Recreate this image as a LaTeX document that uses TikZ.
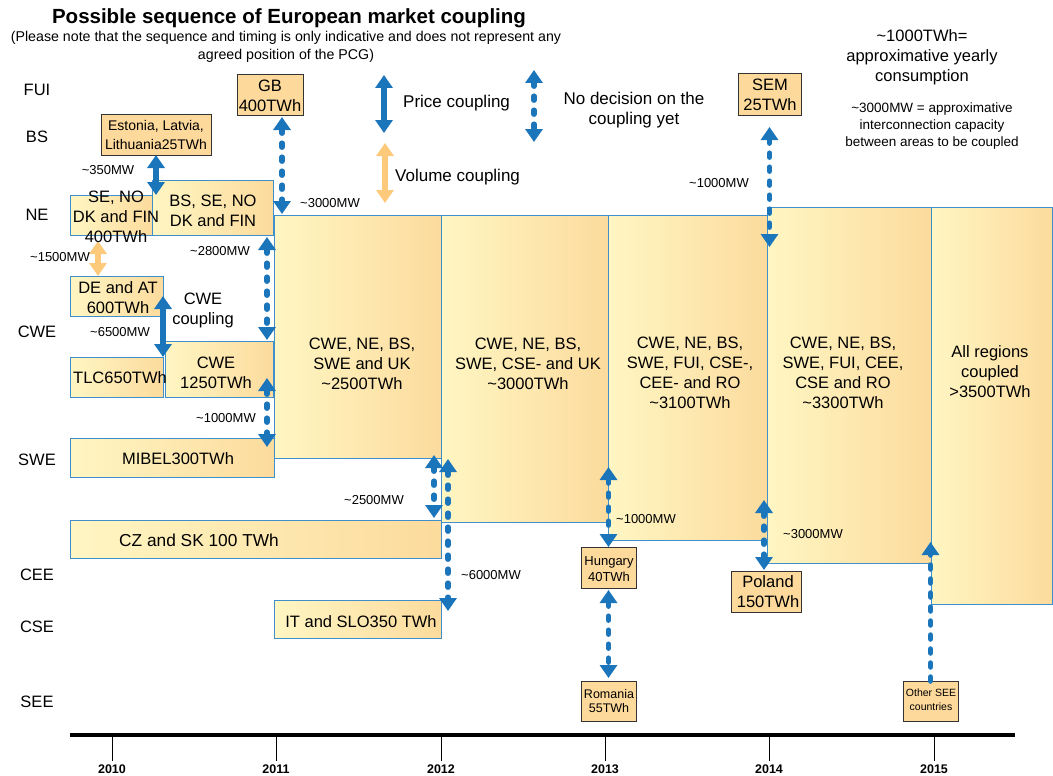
\documentclass[tikz,border=0pt]{standalone}
\usepackage{fontspec}
\setmainfont{Liberation Sans}
\usetikzlibrary{arrows.meta,fit,calc}
\definecolor{arrblue}{HTML}{1B75BB}
\definecolor{boxblue}{HTML}{3F8FCB}
\definecolor{fillL}{HTML}{FFF6C3}
\definecolor{fillR}{HTML}{FCDB9D}
\definecolor{smallfill}{HTML}{FDD99C}
\definecolor{volorange}{HTML}{FDC97A}
\newcommand\fsz[2]{\fontsize{#1}{#2}\selectfont}
\newcommand\tld{\textasciitilde}
\begin{document}
\begin{tikzpicture}[x=1pt,y=-1pt,
  regbox/.style={draw=boxblue, line width=0.9pt, left color=fillL, right color=fillR, inner sep=0pt, outer sep=0pt},
  smallbox/.style={draw=black!80, line width=0.8pt, fill=smallfill, inner sep=0pt, outer sep=0pt},
  txt/.style={inner sep=0pt, align=center, font=\fsz{16.5}{20}},
  rowlab/.style={inner sep=0pt, font=\fsz{16.5}{20}},
  mw/.style={inner sep=0pt, font=\fsz{13}{15}},
  yr/.style={inner sep=0pt, font=\bfseries\fsz{12.5}{15}},
  tipb/.tip={Triangle[width=17pt,length=13pt]},
  pricearr/.style={draw=arrblue, line width=5.5pt, tipb-tipb},
  nodec/.style={draw=arrblue, line width=5.5pt, tipb-tipb, dash pattern=on 4pt off 10pt, line cap=round},
  nodecup/.style={draw=arrblue, line width=5.5pt, -tipb, dash pattern=on 4pt off 10pt, line cap=round},
  volarr/.style={draw=volorange, line width=5.5pt, tipb-tipb},
]
\useasboundingbox (0,0) rectangle (1053,776);
\fill[white] (0,0) rectangle (1053,776);

% titles
\node[inner sep=0pt, font=\bfseries\fsz{20.5}{24}] (title) at (289,18) {Possible sequence of European market coupling};
\node[inner sep=0pt, align=center, font=\fsz{14.2}{18}] (sub) at (286,47) {(Please note that the sequence and timing is only indicative and does not represent any\\agreed position of the PCG)};

% row labels
\node[rowlab] (rFUI) at (37,90) {FUI};
\node[rowlab] (rBS) at (37,137) {BS};
\node[rowlab] (rNE) at (37,215) {NE};
\node[rowlab] (rCWE) at (37,332) {CWE};
\node[rowlab] (rSWE) at (37,460) {SWE};
\node[rowlab] (rCEE) at (37,575) {CEE};
\node[rowlab] (rCSE) at (37,627) {CSE};
\node[rowlab] (rSEE) at (37,702) {SEE};

% big regional boxes
\node[regbox, fit={(274,215) (441,458)}] (big1) {};
\node[regbox, fit={(441,215) (608,522)}] (big2) {};
\node[regbox, fit={(608,215) (767,540)}] (big3) {};
\node[regbox, fit={(767,207) (931,563)}] (big4) {};
\node[regbox, fit={(931,207) (1052,604)}] (big5) {};

% smaller regional boxes
\node[regbox, fit={(70,195) (152,235)}] (sen) {};
\node[regbox, fit={(152,180) (273,235)}] (bsse) {};
\node[regbox, fit={(70,276) (163,316)}] (deat) {};
\node[regbox, fit={(70,357) (163,397)}] (tlc) {};
\node[regbox, fit={(165,341) (273,397)}] (cwe) {};
\node[regbox, fit={(70,438) (274,477)}] (mibel) {};
\node[regbox, fit={(70,520) (441,558)}] (czsk) {};
\node[regbox, fit={(274,600) (441,638)}] (itslo) {};

% country boxes
\node[smallbox, fit={(237,74) (303,115)}] (gb) {};
\node[smallbox, fit={(101,114) (211,155)}] (est) {};
\node[smallbox, fit={(738,73) (801,115)}] (sem) {};
\node[smallbox, fit={(581,547) (636,588)}] (hun) {};
\node[smallbox, fit={(731,571) (801,612)}] (pol) {};
\node[smallbox, fit={(581,681) (636,721)}] (rom) {};
\node[smallbox, fit={(903,681) (958,721)}] (osee) {};

% helper x positions
\coordinate (vx) at (98,0);
\coordinate (gbx) at (282,0);
\coordinate (ax267) at (267,0);
\coordinate (ax434) at (434,0);
\coordinate (ax448) at (448,0);
\coordinate (ax764) at (764,0);

% connectors
\draw[pricearr] (est.south) -- (est.south |- sen.north);
\draw[volarr, shorten <=6pt] (vx |- sen.south) -- (vx |- deat.north);
\draw[pricearr] (deat.east) -- (deat.east |- tlc.north);
\draw[nodec, shorten <=2pt, shorten >=1pt] (gbx |- gb.south) -- (gbx |- big1.north);
\draw[nodec, shorten <=2pt, shorten >=1pt] (ax267 |- bsse.south) -- (ax267 |- cwe.north);
\draw[nodec, shorten <=9pt, shorten >=-9pt] (ax267 |- cwe.east) -- (ax267 |- mibel.north);
\draw[nodec, shorten <=-3pt, shorten >=2pt] (ax434 |- big1.south) -- (ax434 |- czsk.north);
\draw[nodec, shorten <=1pt, shorten >=-11pt] (ax448 |- big1.south) -- (ax448 |- itslo.north);
\draw[nodec, shorten <=9pt] (hun.north |- big1.south) -- (hun.north);
\draw[nodec, shorten <=2pt, shorten >=3pt] (hun.south) -- (rom.north);
\draw[nodec, shorten <=12pt, shorten >=-40pt] (sem.south) -- (sem.south |- big4.north);
\draw[nodec, shorten <=-40pt, shorten >=1pt] (ax764 |- big3.south) -- (ax764 |- pol.north);
\draw[nodecup, shorten >=-21pt] (osee.north) -- (osee.north |- big4.south);

% legend
\coordinate (lpa) at (384,75);
\coordinate (lpb) at (384,133);
\coordinate (lna) at (534,70);
\coordinate (lnb) at (534,142);
\coordinate (lva) at (385,143);
\coordinate (lvb) at (385,203);
\draw[pricearr] (lpa) -- (lpb);
\draw[nodec] (lna) -- (lnb);
\draw[volarr] (lva) -- (lvb);
\node[inner sep=0pt, anchor=west, font=\fsz{17}{20}] (lp) at (403,103) {Price coupling};
\node[inner sep=0pt, align=center, font=\fsz{17}{20}] (ln) at (634,110) {No decision on the\\coupling yet};
\node[inner sep=0pt, anchor=west, font=\fsz{17}{20}] (lv) at (395,177) {Volume coupling};

% box texts
\node[txt] (tbig1) at (362,364) {CWE, NE, BS,\\SWE and UK\\\tld2500TWh};
\node[txt] (tbig2) at (528,364) {CWE, NE, BS,\\SWE, CSE- and UK\\\tld3000TWh};
\node[txt] (tbig3) at (690,373) {CWE, NE, BS,\\SWE, FUI, CSE-,\\CEE- and RO\\\tld3100TWh};
\node[txt] (tbig4) at (843,373) {CWE, NE, BS,\\SWE, FUI, CEE,\\CSE and RO\\\tld3300TWh};
\node[txt] (tbig5) at (990,372) {All regions\\coupled\\\textgreater3500TWh};
\node[txt] (tsen) at (116,217) {SE, NO\\DK and FIN\\400TWh};
\node[txt] (tbsse) at (213,211) {BS, SE, NO\\DK and FIN};
\node[txt] (tdeat) at (118,298) {DE and AT\\600TWh};
\node[txt] (ttlc) at (120,378) {TLC650TWh};
\node[txt] (tcwe) at (216,373) {CWE\\1250TWh};
\node[txt] (tmibel) at (178,459) {MIBEL300TWh};
\node[txt, font=\fsz{17.3}{20}] (tczsk) at (199,540) {CZ and SK 100 TWh};
\node[txt] (titslo) at (361,622) {IT and SLO350 TWh};
\node[txt] (tcwec) at (203,310) {CWE\\coupling};
\node[txt] (tgb) at (270,96) {GB\\400TWh};
\node[txt, font=\fsz{14}{19}] (test) at (156,135) {Estonia, Latvia,\\Lithuania25TWh};
\node[txt] (tsem) at (770,95) {SEM\\25TWh};
\node[txt, font=\fsz{13}{16}] (thun) at (609,569) {Hungary\\40TWh};
\node[txt] (tpol) at (768,592) {Poland\\150TWh};
\node[txt, font=\fsz{12.5}{14.5}] (trom) at (609,701) {Romania\\55TWh};
\node[txt, font=\fsz{10.5}{14}] (tosee) at (931,700) {Other SEE\\countries};

% MW labels
\node[mw] (m350) at (108,170) {\tld350MW};
\node[mw] (m3000a) at (330,203) {\tld3000MW};
\node[mw] (m1500) at (60,257) {\tld1500MW};
\node[mw] (m2800) at (220,251) {\tld2800MW};
\node[mw] (m6500) at (120,332) {\tld6500MW};
\node[mw] (m1000a) at (226,418) {\tld1000MW};
\node[mw] (m2500) at (374,500) {\tld2500MW};
\node[mw] (m6000) at (491,575) {\tld6000MW};
\node[mw] (m1000b) at (646,519) {\tld1000MW};
\node[mw] (m1000c) at (719,183) {\tld1000MW};
\node[mw] (m3000b) at (813,534) {\tld3000MW};

% explanation
\node[inner sep=0pt, align=center, font=\fsz{16.5}{20}] (expl1) at (922,57) {\tld1000TWh=\\approximative yearly\\consumption};
\node[inner sep=0pt, align=center, font=\fsz{13.5}{17}] (expl2) at (932,126) {\tld3000MW = approximative\\interconnection capacity\\between areas to be coupled};

% timeline
\coordinate (tlA) at (70,735);
\coordinate (tlB) at (1015,735);
\draw[line width=3.5pt] (tlA) -- (tlB);
\node[yr] (y2010) at (112,769) {2010};
\node[yr] (y2011) at (276,769) {2011};
\node[yr] (y2012) at (441,769) {2012};
\node[yr] (y2013) at (605,769) {2013};
\node[yr] (y2014) at (769,769) {2014};
\node[yr] (y2015) at (934,769) {2015};
\foreach \y in {y2010,y2011,y2012,y2013,y2014,y2015}{
  \draw[line width=0.6pt] (\y.north |- tlA) ++(0,2) -- ($(\y.north)+(0,-3)$);
}
\end{tikzpicture}
\end{document}
